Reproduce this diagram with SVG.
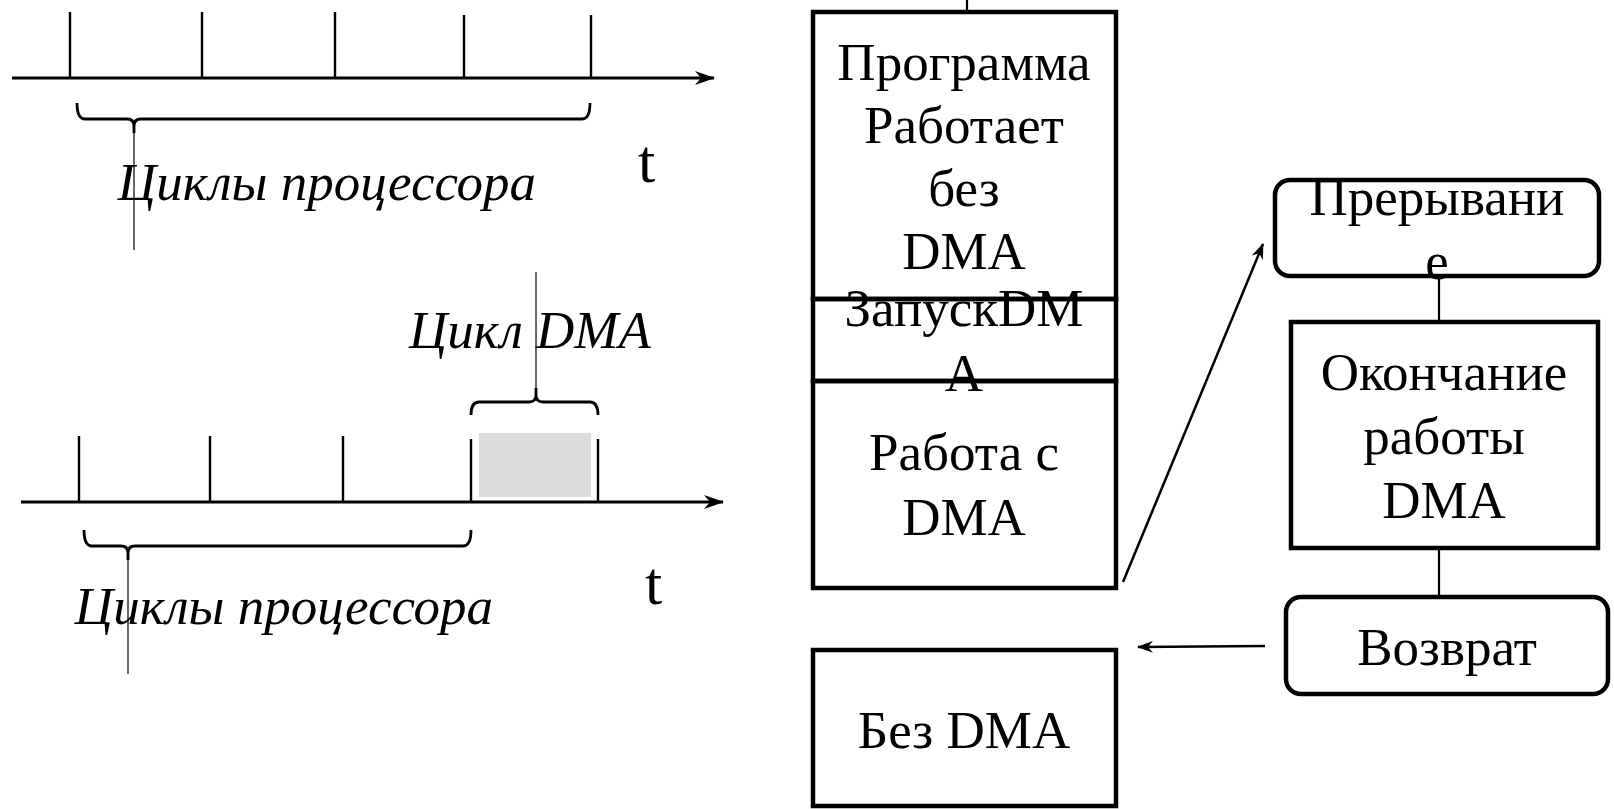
<svg xmlns="http://www.w3.org/2000/svg" width="1614" height="809" viewBox="0 0 1614 809">
  <style>
    .axis { stroke: #000; stroke-width: 3; fill: none; }
    .tick { stroke: #000; stroke-width: 2.4; fill: none; }
    .brace { stroke: #000; stroke-width: 2.8; fill: none; stroke-linejoin: round; }
    .lead { stroke: #000; stroke-width: 1.2; fill: none; }
    .box { fill: none; stroke: #000; stroke-width: 4.5; }
    .link { stroke: #000; stroke-width: 2.2; fill: none; }
    .arrow { stroke: #000; stroke-width: 2.5; fill: none; }
    .lbl { font-family: "Liberation Serif", "Times New Roman", serif; font-size: 53px; fill: #000; text-anchor: middle; }
    .ital { font-family: "Liberation Serif", "Times New Roman", serif; font-size: 53px; font-style: italic; fill: #000; }
    .tlbl { font-family: "Liberation Serif", "Times New Roman", serif; font-size: 62px; fill: #000; }
  </style>
  <defs>
    <marker id="head" viewBox="0 0 20 14" refX="19" refY="7" markerWidth="20" markerHeight="14" markerUnits="userSpaceOnUse" orient="auto">
      <path d="M0,0 L20,7 L0,14 L6,7 z" fill="#000"/>
    </marker>
    <marker id="headSmall" viewBox="0 0 16 12" refX="15" refY="6" markerWidth="16" markerHeight="12" markerUnits="userSpaceOnUse" orient="auto">
      <path d="M0,0 L16,6 L0,12 L5,6 z" fill="#000"/>
    </marker>
  </defs>

  <!-- Timeline without DMA -->
  <g id="timeline-cpu">
    <line class="axis" x1="12" y1="78" x2="714" y2="78" marker-end="url(#head)"/>
    <line class="tick" x1="70" y1="12" x2="70" y2="77"/>
    <line class="tick" x1="202" y1="12" x2="202" y2="77"/>
    <line class="tick" x1="335" y1="12" x2="335" y2="77"/>
    <line class="tick" x1="464" y1="15" x2="464" y2="77"/>
    <line class="tick" x1="591" y1="15" x2="591" y2="77"/>
    <path class="brace" d="M77,103 Q77,119 85,119 L127,119 Q134,119 134,126 L134,133 M134,126 Q134,119 141,119 L582,119 Q590,119 590,103"/>
    <line class="lead" x1="134" y1="130" x2="134" y2="250"/>
    <text class="ital" x="327" y="200" text-anchor="middle">Циклы процессора</text>
    <text class="tlbl" x="638" y="182">t</text>
  </g>

  <!-- Timeline with a DMA cycle -->
  <g id="timeline-dma">
    <rect x="479" y="433" width="112" height="64" fill="#dcdcdc"/>
    <line class="axis" x1="21" y1="502" x2="723" y2="502" marker-end="url(#head)"/>
    <line class="tick" x1="79" y1="436" x2="79" y2="501"/>
    <line class="tick" x1="210" y1="436" x2="210" y2="501"/>
    <line class="tick" x1="343" y1="436" x2="343" y2="501"/>
    <line class="tick" x1="471" y1="439" x2="471" y2="501"/>
    <line class="tick" x1="598" y1="439" x2="598" y2="501"/>
    <path class="brace" d="M84,530 Q84,546 92,546 L121,546 Q128,546 128,553 L128,560 M128,553 Q128,546 135,546 L463,546 Q471,546 471,530"/>
    <line class="lead" x1="128" y1="557" x2="128" y2="674"/>
    <text class="ital" x="284" y="624" text-anchor="middle">Циклы процессора</text>
    <text class="tlbl" x="645" y="604">t</text>
    <path class="brace" d="M471,415 Q471,402 479,402 L529,402 Q536,402 536,395 L536,388 M536,395 Q536,402 543,402 L590,402 Q598,402 598,415"/>
    <line class="lead" x1="536" y1="391" x2="536" y2="272"/>
    <text class="ital" x="530" y="348" text-anchor="middle">Цикл DMA</text>
  </g>

  <!-- Connectors -->
  <g id="connectors">
    <line class="link" x1="967" y1="0" x2="967" y2="12"/>
    <line class="link" x1="1439" y1="277" x2="1439" y2="322"/>
    <line class="link" x1="1439" y1="548" x2="1439" y2="597"/>
    <line class="arrow" x1="1123" y1="582" x2="1263" y2="244" marker-end="url(#headSmall)"/>
    <line class="arrow" x1="1265" y1="646" x2="1138" y2="647" marker-end="url(#headSmall)"/>
  </g>

  <!-- Program flow, left column -->
  <g id="node-program">
    <rect class="box" x="813" y="12" width="303" height="287"/>
    <text class="lbl" x="964" y="80">Программа</text>
    <text class="lbl" x="964" y="143">Работает</text>
    <text class="lbl" x="964" y="206">без</text>
    <text class="lbl" x="964" y="269">DMA</text>
  </g>
  <g id="node-work">
    <rect class="box" x="813" y="381" width="303" height="207"/>
    <text class="lbl" x="964" y="470">Работа с</text>
    <text class="lbl" x="964" y="535">DMA</text>
  </g>
  <g id="node-start">
    <rect class="box" x="813" y="299" width="303" height="82"/>
    <text class="lbl" x="964" y="326">ЗапускDM</text>
    <text class="lbl" x="964" y="391">A</text>
  </g>
  <g id="node-nodma">
    <rect class="box" x="813" y="650" width="303" height="156"/>
    <text class="lbl" x="964" y="748">Без DMA</text>
  </g>

  <!-- Interrupt handling, right column -->
  <g id="node-interrupt">
    <rect class="box" x="1275" y="180" width="324" height="96" rx="15" ry="15"/>
    <text class="lbl" x="1437" y="215">Прерывани</text>
    <text class="lbl" x="1437" y="279">е</text>
  </g>
  <g id="node-finish">
    <rect class="box" x="1291" y="322" width="307" height="226"/>
    <text class="lbl" x="1444" y="390">Окончание</text>
    <text class="lbl" x="1444" y="454">работы</text>
    <text class="lbl" x="1444" y="518">DMA</text>
  </g>
  <g id="node-return">
    <rect class="box" x="1286" y="597" width="322" height="97" rx="15" ry="15"/>
    <text class="lbl" x="1447" y="665">Возврат</text>
  </g>
</svg>
